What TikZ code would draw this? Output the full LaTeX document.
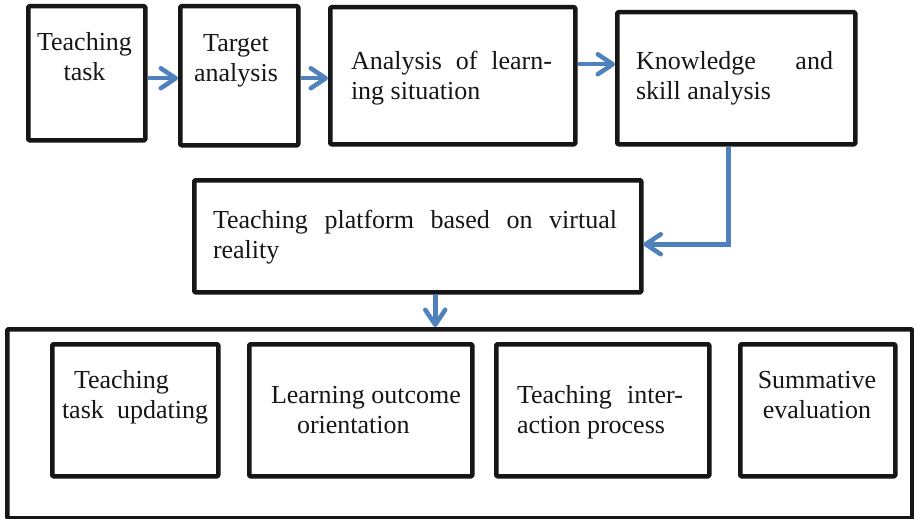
\documentclass[tikz,border=0pt]{standalone}
\usepackage{fontspec}
\setmainfont{Liberation Serif}
\usetikzlibrary{arrows.meta}

\definecolor{flowblue}{RGB}{79,129,189}
\definecolor{edgeblack}{RGB}{22,22,22}

% two stacked lines, first baseline is the node baseline
\newcommand{\twolines}[3]{\begin{tabular}[t]{@{}#1@{}}#2\\#3\end{tabular}}

\tikzset{
  stepbox/.style={draw=edgeblack, line width=4.5pt, line join=round,
    rounded corners=1pt, inner sep=0pt, outer sep=2.25pt, anchor=north west},
  flow/.style={draw=flowblue, line width=4.5pt,
    -{Straight Barb[length=15pt,width=20pt,round]}},
  txt/.style={inner sep=0pt, outer sep=0pt, text=edgeblack,
    font=\fontsize{26}{30}\selectfont},
}

\begin{document}
\begin{tikzpicture}[x=1pt,y=-1pt]
\useasboundingbox (0,0) rectangle (914,519);

% top row of steps
\node[stepbox, minimum width=117, minimum height=134] (b1) at (26,4) {};
\node[stepbox, minimum width=118, minimum height=139] (b2) at (178,4) {};
\node[stepbox, minimum width=245, minimum height=137] (b3) at (328,5) {};
\node[stepbox, minimum width=238, minimum height=132] (b4) at (615,10) {};

% platform box
\node[stepbox, minimum width=447, minimum height=112] (b5) at (192,178) {};

% outer frame with the four sub-steps
\node[stepbox, minimum width=905, minimum height=189] (big) at (5,327) {};
\node[stepbox, minimum width=166, minimum height=132] (s1) at (50,342) {};
\node[stepbox, minimum width=223, minimum height=132] (s2) at (247,342) {};
\node[stepbox, minimum width=213, minimum height=132] (s3) at (494,342) {};
\node[stepbox, minimum width=155, minimum height=132] (s4) at (738,342) {};

% texts
\node[txt, anchor=base] (t1) at (84.5,51) {\twolines{c}{Teaching}{task}};
\node[txt, anchor=base] (t2) at (236,52) {\twolines{c}{Target}{analysis}};
\node[txt, anchor=base west] (t3) at (351,70)
  {\twolines{l}{\makebox[201pt][s]{Analysis of learn-}}{ing situation}};
\node[txt, anchor=base west] (t4) at (636,70)
  {\twolines{l}{\makebox[197pt][s]{Knowledge and}}{skill analysis}};
\node[txt, anchor=base west] (t5) at (213,228)
  {\twolines{l}{\makebox[404pt][s]{Teaching platform based on virtual}}{reality}};

\node[txt, anchor=base west] (u1) at (62,388)
  {\twolines{l}{\hspace*{12pt}Teaching}{\makebox[146pt][s]{task updating}}};
\node[txt, anchor=base west] (u2) at (271,403)
  {\twolines{l}{Learning outcome}{\hspace*{26pt}orientation}};
\node[txt, anchor=base west] (u3) at (517,403)
  {\twolines{l}{\makebox[166pt][s]{Teaching inter-}}{action process}};
\node[txt, anchor=base] (u4) at (817,388) {\twolines{c}{Summative}{evaluation}};

% connectors
\path (b1.east) ++(0,5) coordinate (a1);
\draw[flow] (a1) -- (a1 -| b2.west);
\path (b2.east) ++(0,2.5) coordinate (a2);
\draw[flow] (a2) -- (a2 -| b3.west);
\path (b3.east) ++(0,-11.5) coordinate (a3);
\draw[flow] (a3) -- (a3 -| b4.west);
\draw[flow] ([xshift=-8pt]b4.south) |- ([yshift=-8pt]b5.east);
\path (b5.south) ++(17.5,0) coordinate (a5);
\draw[flow] (a5) -- (a5 |- big.north);
\end{tikzpicture}
\end{document}
